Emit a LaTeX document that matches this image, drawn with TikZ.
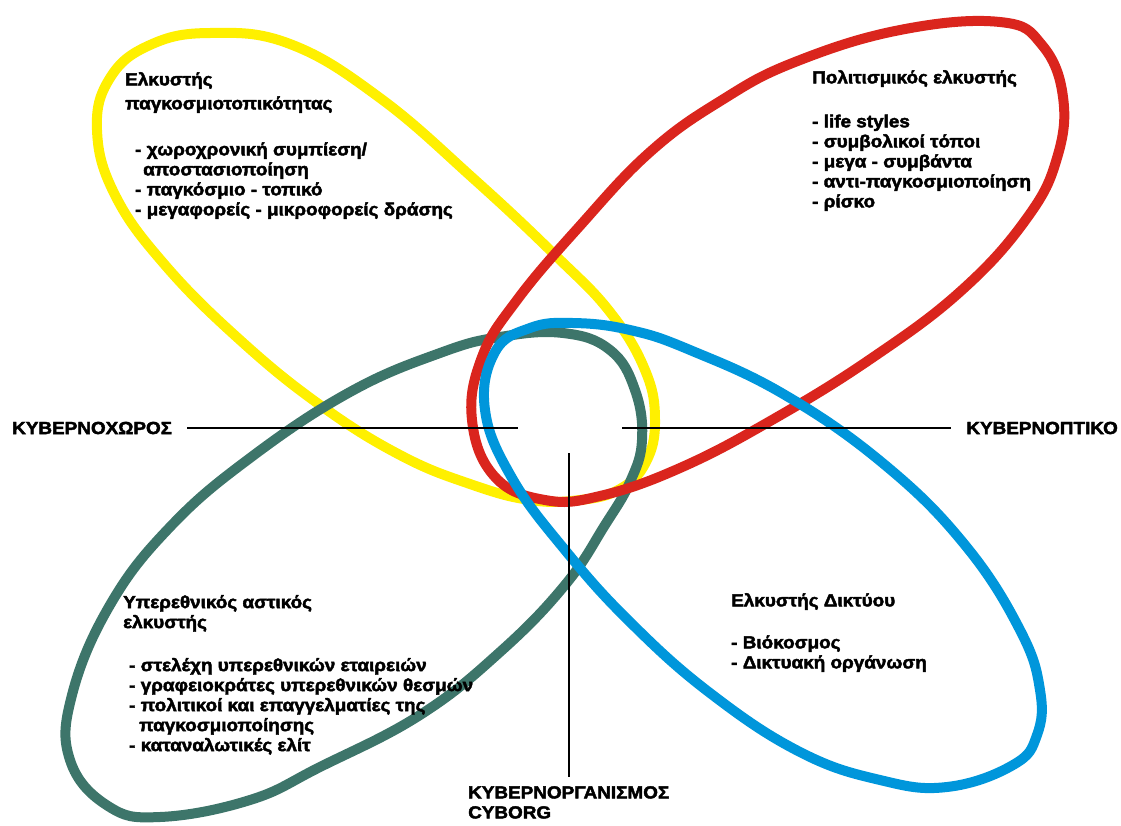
\documentclass[tikz,border=0pt]{standalone}
\usepackage{fontspec}
\setmainfont{Liberation Sans}
\newfontfamily\gk{Liberation Sans}[FakeStretch=1.08,FakeBold=2.5]
\definecolor{cy}{RGB}{255,240,0}
\definecolor{cr}{RGB}{218,37,29}
\definecolor{ct}{RGB}{61,117,106}
\definecolor{cb}{RGB}{0,150,219}
\tikzset{
  loopline/.style={line width=10pt, line join=round},
  lbl/.style={font=\gk\bfseries\fontsize{17.5}{20}\selectfont, inner sep=0pt, anchor=north west, align=left},
  axlbl/.style={font=\gk\bfseries\fontsize{17.5}{20}\selectfont, inner sep=0pt},
  axisline/.style={line width=2.5pt, black}
}
\begin{document}
\begin{tikzpicture}[x=1pt,y=-1pt]
\useasboundingbox (0,0) rectangle (1121,825);
% yellow
\draw[loopline,cy] plot[smooth cycle,tension=0.7] coordinates {(97,130) (110,78) (150,45) (210,33) (290,44) (380,98) (475,180) (555,255) (610,312) (645,370) (655,420) (646,462) (620,489) (580,500) (530,500) (470,484) (400,455) (320,405) (240,340) (165,265) (115,195)};
% teal
\draw[loopline,ct] plot[smooth cycle,tension=0.7] coordinates {(563,333) (610,350) (635,390) (642,440) (630,482) (605,525) (565,585) (500,652) (420,715) (320,767) (250,800) (160,817) (108,806) (70,760) (72,695) (110,605) (170,527) (250,458) (350,392) (440,353) (500,337)};
% red
\draw[loopline,cr] plot[smooth cycle,tension=0.7] coordinates {(517,300) (578,228) (650,152) (722,100) (795,62) (900,30) (1000,22) (1042,45) (1063,97) (1057,158) (1027,218) (962,290) (872,358) (772,420) (680,468) (600,496) (545,500) (495,477) (472,420) (482,357)};
% blue
\draw[loopline,cb] plot[smooth cycle,tension=0.7] coordinates {(573,323) (630,330) (690,350) (785,395) (885,465) (965,545) (1020,630) (1040,690) (1037,735) (1013,765) (947,787) (880,780) (800,752) (710,693) (630,622) (565,550) (512,478) (485,410) (495,352) (530,328)};

\node[lbl] (yt) at (125,72) {Ελκυστής\\[4pt]
παγκοσμιοτοπικότητας\\[26pt]
\hspace*{10pt}- χωροχρονική συμπίεση/\\
\hspace*{18pt}αποστασιοποίηση\\
\hspace*{10pt}- παγκόσμιο - τοπικό\\
\hspace*{10pt}- μεγαφορείς - μικροφορείς δράσης};

\node[lbl] (rt) at (812,70) {Πολιτισμικός ελκυστής\\[24pt]
- life styles\\
- συμβολικοί τόποι\\
- μεγα - συμβάντα\\
- αντι-παγκοσμιοποίηση\\
- ρίσκο};

\node[lbl] (tt) at (123,595) {Υπερεθνικός αστικός\\
ελκυστής\\[23pt]
\hspace*{6pt}- στελέχη υπερεθνικών εταιρειών\\
\hspace*{6pt}- γραφειοκράτες υπερεθνικών θεσμών\\
\hspace*{6pt}- πολιτικοί και επαγγελματίες της\\
\hspace*{16pt}παγκοσμιοποίησης\\
\hspace*{6pt}- καταναλωτικές ελίτ};

\node[lbl] (bt) at (731,593) {Ελκυστής Δικτύου\\[22pt]
- Βιόκοσμος\\
- Δικτυακή οργάνωση};

\node[axlbl, anchor=west] (kx) at (12,428) {ΚΥΒΕΡΝΟΧΩΡΟΣ};
\node[axlbl, anchor=east] (kp) at (1118,428) {ΚΥΒΕΡΝΟΠΤΙΚΟ};
\node[axlbl, anchor=north west, align=left] (ko) at (468,786) {ΚΥΒΕΡΝΟΡΓΑΝΙΣΜΟΣ\\CYBORG};

\coordinate (cl) at (518,428);
\coordinate (cr) at (622,428);
\coordinate (cv) at (569,453);
\draw[axisline] ([xshift=15pt]kx.east) -- (cl);
\draw[axisline] (cr) -- ([xshift=-15pt]kp.west);
\draw[axisline] (cv) -- ([yshift=9pt]cv |- ko.north);
\end{tikzpicture}
\end{document}
